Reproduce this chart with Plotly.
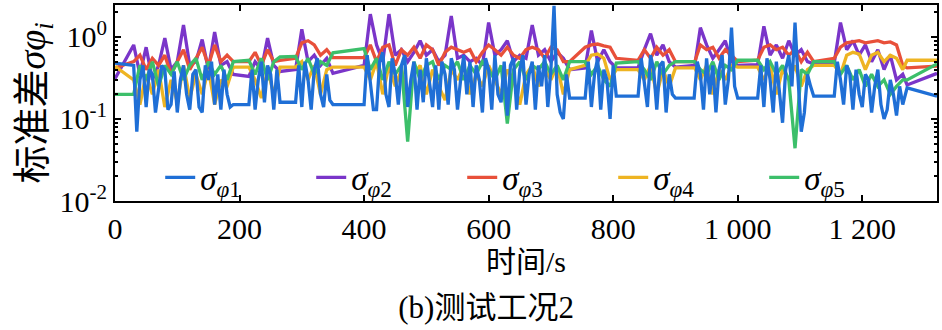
import plotly.graph_objects as go

# sampling times (s) of sigma_phi_2..5
t = [0,
     30, 40, 50, 60, 70, 80, 90, 100, 110, 120, 130, 140, 150, 160, 170, 180, 190,
     215, 225, 235, 245, 255, 265,
     290, 300, 310, 320, 330, 340, 350,
     400, 410, 420, 430, 440, 450, 460, 470, 480, 490, 500, 510, 520, 530, 540, 550, 560,
     570, 580, 590, 600, 610, 620, 630, 640, 650, 660, 670, 680, 690, 700, 710, 720, 730,
     755, 765, 775, 785, 795, 805,
     840, 850, 860, 870, 880, 890, 900,
     931, 940, 950, 960, 970, 980, 990, 1000,
     1032, 1042, 1052, 1062, 1072, 1082, 1092, 1102, 1112, 1122,
     1155, 1165, 1175, 1185, 1195, 1205, 1215, 1225, 1235, 1245, 1255, 1265,
     1272, 1320]

# sampling times (s) of sigma_phi_1 (finer)
t1 = ([0] + list(range(30, 191, 5)) + list(range(215, 266, 5)) + list(range(290, 351, 5))
      + list(range(400, 731, 5)) + list(range(755, 806, 5)) + list(range(840, 901, 5))
      + list(range(930, 1001, 5)) + list(range(1032, 1123, 5)) + list(range(1155, 1266, 5))
      + [1272, 1320])

sigma1 = [0.48,
          0.45, 0.07, 0.30, 0.45, 0.14, 0.40, 0.35, 0.12, 0.25, 0.45,
          0.40, 0.13, 0.15, 0.38, 0.12, 0.30, 0.45, 0.20, 0.13, 0.35,
          0.40, 0.14, 0.12, 0.45, 0.30, 0.50, 0.15, 0.35, 0.13, 0.40,
          0.20, 0.14, 0.15,
          0.15, 0.40, 0.13, 0.30, 0.50, 0.16, 0.45, 0.35, 0.13, 0.40, 0.16,
          0.16, 0.45, 0.14, 0.50, 0.30, 0.13, 0.40, 0.55, 0.20, 0.14, 0.35, 0.17, 0.15,
          0.15, 0.60, 0.30, 0.13, 0.13, 0.50, 0.65, 0.20, 0.14, 0.55, 0.35,
          0.15, 0.45, 0.60, 0.14, 0.30, 0.50, 0.13, 0.40, 0.16, 0.55,
          0.25, 0.14, 0.45, 0.13, 0.50, 0.35, 0.15, 0.55, 0.40, 0.13,
          0.30, 0.60, 0.20, 0.50, 0.14, 0.45, 0.30, 0.12, 0.55, 0.40,
          0.13, 0.60, 0.20, 0.16, 0.50, 0.11, 0.45, 0.55, 0.13, 0.40,
          0.60, 0.15, 0.35, 0.50, 0.13, 0.45, 0.25, 0.60, 0.14, 0.40,
          2.40, 0.20, 0.12, 0.10, 0.35, 0.18,
          0.18, 0.50, 0.14, 0.35, 0.55, 0.13, 0.40, 0.30, 0.10, 0.45, 0.19,
          0.19, 0.55, 0.30, 0.14, 0.60, 0.40, 0.13, 0.45, 0.50, 0.12, 0.35, 0.20, 0.18,
          0.18, 0.50, 0.35, 0.13, 0.55, 0.20, 0.45, 0.12, 0.40, 0.60, 0.15, 0.30, 1.30, 0.25, 0.18,
          0.18, 0.45, 0.14, 0.55, 0.30, 0.12, 0.50, 0.20, 0.09, 0.40,
          0.60, 0.25, 1.50, 0.30, 0.07, 0.12, 0.35, 0.25, 0.19,
          0.19, 0.50, 0.30, 0.15, 0.45, 0.35, 0.13, 0.40, 0.20, 0.14, 0.35, 0.30,
          0.12, 0.25, 0.40, 0.15, 0.10, 0.13, 0.30, 0.20, 0.11, 0.25, 0.15,
          0.24, 0.19]

sigma2 = [0.31,
          0.80, 0.35, 0.75, 0.30, 0.45, 0.97, 0.40, 0.50, 1.40, 0.45, 0.50, 0.93, 0.40, 1.15, 0.45, 0.50, 0.35,
          0.33, 0.50, 0.40, 0.97, 0.45, 0.38,
          0.40, 1.24, 0.50, 0.60, 0.45, 0.55, 0.36,
          0.45, 1.90, 0.80, 0.50, 1.90, 0.60, 0.70, 0.50, 0.65, 0.90, 0.60, 0.70, 0.50, 0.60, 1.80, 0.55, 0.60,
          0.50, 0.55, 0.45, 1.50, 0.60, 0.70, 0.90, 0.50, 0.60, 0.55, 1.40, 0.60, 0.70, 0.50, 0.65, 0.55, 0.40,
          0.42, 1.20, 0.50, 0.70, 0.50, 0.42,
          0.42, 0.70, 1.10, 0.60, 0.80, 0.50, 0.43,
          0.45, 1.30, 0.80, 0.55, 0.70, 0.90, 0.50, 0.45,
          0.46, 1.35, 0.60, 0.80, 0.55, 0.90, 0.60, 0.70, 0.50, 0.47,
          0.48, 1.50, 0.70, 0.90, 0.60, 0.80, 0.50, 0.70, 0.40, 0.60, 0.30, 0.35,
          0.26, 0.36]

sigma3 = [0.42,
          0.50, 0.60, 0.40, 0.55, 0.45, 0.60, 0.35, 0.50, 0.70, 0.40, 0.55, 0.75, 0.45, 0.80, 0.50, 0.60, 0.50,
          0.50, 0.65, 0.45, 0.70, 0.50, 0.52,
          0.55, 0.85, 0.90, 0.80, 0.60, 0.70, 0.56,
          0.56, 0.80, 0.50, 0.75, 0.80, 0.45, 0.70, 0.60, 0.75, 0.55, 0.80, 0.70, 0.45, 0.65, 0.75, 0.70, 0.65,
          0.70, 0.50, 0.65, 0.80, 0.70, 0.60, 0.75, 0.60, 0.55, 0.70, 0.75, 0.70, 0.55, 0.75, 0.70, 0.50, 0.50,
          0.75, 0.80, 0.82, 0.78, 0.75, 0.55,
          0.52, 0.70, 0.55, 0.75, 0.60, 0.70, 0.50,
          0.50, 0.80, 0.70, 0.75, 0.55, 0.70, 0.60, 0.50,
          0.52, 0.75, 0.80, 0.70, 0.75, 0.60, 0.70, 0.50, 0.65, 0.50,
          0.55, 0.75, 0.85, 0.88, 0.90, 0.85, 0.88, 0.90, 0.85, 0.87, 0.80, 0.45,
          0.42, 0.44]

sigma4 = [0.44,
          0.30, 0.15, 0.35, 0.20, 0.40, 0.14, 0.30, 0.16, 0.45, 0.18, 0.35, 0.20, 0.40, 0.15, 0.30, 0.25, 0.43,
          0.43, 0.30, 0.18, 0.40, 0.20, 0.43,
          0.43, 0.50, 0.30, 0.45, 0.20, 0.40, 0.43,
          0.43, 0.30, 0.50, 0.20, 0.45, 0.25, 0.40, 0.18, 0.35, 0.45, 0.20, 0.40, 0.25, 0.17, 0.40, 0.30, 0.45,
          0.20, 0.35, 0.25, 0.45, 0.30, 0.20, 0.40, 0.30, 0.15, 0.35, 0.45, 0.25, 0.40, 0.30, 0.45, 0.20, 0.40,
          0.45, 0.60, 0.62, 0.55, 0.30, 0.40,
          0.40, 0.30, 0.45, 0.20, 0.40, 0.25, 0.42,
          0.42, 0.30, 0.45, 0.20, 0.40, 0.30, 0.45, 0.43,
          0.43, 0.30, 0.45, 0.20, 0.40, 0.30, 0.45, 0.25, 0.40, 0.45,
          0.45, 0.35, 0.60, 0.65, 0.62, 0.40, 0.60, 0.65, 0.50, 0.60, 0.55, 0.40,
          0.52, 0.52]

sigma5 = [0.20,
          0.20, 0.45, 0.30, 0.50, 0.25, 0.45, 0.35, 0.50, 0.30, 0.45, 0.55, 0.30, 0.50, 0.35, 0.45, 0.30, 0.50,
          0.52, 0.35, 0.55, 0.30, 0.50, 0.57,
          0.58, 0.40, 0.55, 0.35, 0.50, 0.45, 0.64,
          0.72, 0.40, 0.55, 0.30, 0.50, 0.35, 0.45, 0.053, 0.50, 0.30, 0.45, 0.50, 0.30, 0.45, 0.40, 0.50, 0.30,
          0.45, 0.35, 0.50, 0.40, 0.30, 0.45, 0.088, 0.40, 0.50, 0.30, 0.45, 0.40, 0.50, 0.35, 0.45, 0.30, 0.50,
          0.50, 0.35, 0.45, 0.30, 0.25, 0.48,
          0.50, 0.40, 0.30, 0.50, 0.35, 0.45, 0.50,
          0.50, 0.40, 0.35, 0.50, 0.30, 0.45, 0.40, 0.52,
          0.52, 0.40, 0.50, 0.35, 0.45, 0.30, 0.044, 0.40, 0.35, 0.50,
          0.50, 0.35, 0.45, 0.30, 0.40, 0.25, 0.35, 0.25, 0.30, 0.20, 0.25, 0.30,
          0.30, 0.47]

names = ["<i>σ</i><sub><i>φ</i></sub><sub>1</sub>",
         "<i>σ</i><sub><i>φ</i></sub><sub>2</sub>",
         "<i>σ</i><sub><i>φ</i></sub><sub>3</sub>",
         "<i>σ</i><sub><i>φ</i></sub><sub>4</sub>",
         "<i>σ</i><sub><i>φ</i></sub><sub>5</sub>"]
colors = ["#1f6fd6", "#7a35c9", "#e8503a", "#eeb422", "#3cbf6a"]
series = [sigma1, sigma2, sigma3, sigma4, sigma5]
times = [t1, t, t, t, t]

x_ticks = [0, 200, 400, 600, 800, 1000, 1200]
x_ticktext = ["0", "200", "400", "600", "800", "1 000", "1 200"]
y_ticks = [0.01, 0.1, 1]
y_ticktext = ["10<sup>-2</sup>", "10<sup>-1</sup>", "10<sup>0</sup>"]

for tt, s in zip(times, series):
    assert len(s) == len(tt), (len(s), len(tt))

FONT = "Liberation Serif, Noto Sans CJK SC, serif"

fig = go.Figure()
# draw order: blue on top
for i in [1, 2, 3, 4, 0]:
    fig.add_trace(go.Scatter(x=times[i], y=series[i], mode="lines", name=names[i],
                             line=dict(color=colors[i], width=3.3),
                             legendrank=i + 1))

fig.update_layout(
    width=942, height=330,
    margin=dict(l=115, r=3, t=3, b=129),
    paper_bgcolor="white", plot_bgcolor="white",
    font=dict(family=FONT, color="black", size=28),
    showlegend=True,
    legend=dict(orientation="h", x=0.055, y=0.12, xanchor="left", yanchor="middle",
                bgcolor="rgba(0,0,0,0)", font=dict(size=33, family=FONT),
                entrywidth=106, entrywidthmode="pixels", traceorder="normal"),
    title=dict(text="(b)测试工况2", x=0.516, xanchor="center", y=0.07, yanchor="middle",
               font=dict(size=31, family=FONT)),
)

fig.update_xaxes(
    range=[0, 1320], tickmode="array", tickvals=x_ticks, ticktext=x_ticktext,
    ticks="inside", ticklen=6, tickwidth=2, tickcolor="black",
    showline=True, linewidth=2, linecolor="black", mirror="ticks",
    showgrid=False, zeroline=False, tickfont=dict(size=30, family=FONT),
    title=dict(text="时间/s", font=dict(size=30, family=FONT), standoff=4),
)
fig.update_yaxes(
    type="log", range=[-2, 0.39], tickmode="array", tickvals=y_ticks, ticktext=y_ticktext,
    ticks="inside", ticklen=6, tickwidth=2, tickcolor="black",
    minor=dict(ticks="inside", ticklen=3, tickwidth=1.5, tickcolor="black", dtick="D1", showgrid=False),
    showline=True, linewidth=2, linecolor="black", mirror="ticks",
    showgrid=False, zeroline=False, tickfont=dict(size=30, family=FONT),
    title=dict(text="标准差<i>σφ</i><sub><i>i</i></sub>", font=dict(size=38, family=FONT), standoff=2),
)

fig.write_html("out.html")
